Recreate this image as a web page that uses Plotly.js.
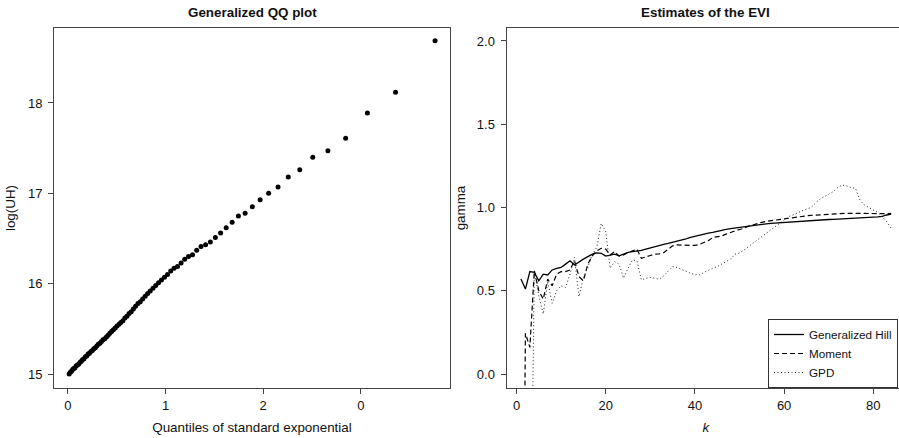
<!DOCTYPE html>
<html>
<head>
<meta charset="utf-8">
<script src="https://cdn.plot.ly/plotly-3.0.1.min.js"></script>
<style>
html,body{margin:0;padding:0;overflow:hidden;background:#fff;}
#chart{width:919px;height:438px;}
</style>
</head>
<body>
<div id="chart"></div>
<script>
// ---------- Left panel: generalized QQ plot ----------
var qqQuantiles = [3.761,3.356,3.068,2.845,2.663,2.508,2.375,2.257,2.152,2.056,
  1.969,1.889,1.815,1.746,1.682,1.621,1.564,1.510,1.459,1.410,
  1.363,1.319,1.276,1.235,1.196,1.159,1.122,1.087,1.053,1.020,
  0.989,0.958,0.928,0.899,0.871,0.843,0.817,0.791,0.765,0.741,
  0.717,0.693,0.670,0.648,0.626,0.604,0.583,0.563,0.542,0.523,
  0.503,0.484,0.465,0.447,0.429,0.411,0.394,0.377,0.360,0.343,
  0.327,0.311,0.295,0.280,0.265,0.250,0.235,0.220,0.206,0.192,
  0.178,0.164,0.150,0.137,0.124,0.111,0.098,0.085,0.072,0.060,
  0.048,0.036,0.024,0.012];
var qqLogUH = [18.69,18.12,17.89,17.61,17.47,17.40,17.26,17.18,17.07,17.00,
  16.93,16.85,16.78,16.75,16.68,16.62,16.56,16.51,16.46,16.43,
  16.41,16.37,16.32,16.30,16.27,16.23,16.19,16.17,16.14,16.10,
  16.07,16.04,16.01,15.98,15.95,15.92,15.89,15.86,15.83,15.80,
  15.78,15.75,15.72,15.69,15.67,15.64,15.62,15.59,15.57,15.55,
  15.53,15.51,15.49,15.47,15.45,15.43,15.41,15.39,15.38,15.36,
  15.34,15.33,15.31,15.29,15.28,15.26,15.25,15.23,15.22,15.20,
  15.19,15.17,15.16,15.14,15.13,15.11,15.10,15.09,15.07,15.06,
  15.05,15.03,15.02,15.00];
var qqXTickVals = [0,1,2,3];
var qqXTickText = ["0","1","2","0"];
var qqYTickVals = [15,16,17,18];

// ---------- Right panel: estimates of the EVI ----------
var kValues = [1,2,3,4,5,6,7,8,9,10,11,12,13,14,15,16,17,18,19,20,
  21,22,23,24,25,26,27,28,29,30,31,32,33,34,35,36,37,38,39,40,
  41,42,43,44,45,46,47,48,49,50,51,52,53,54,55,56,57,58,59,60,
  61,62,63,64,65,66,67,68,69,70,71,72,73,74,75,76,77,78,79,80,
  81,82,83,84];
var genHill = [0.57,0.51,0.615,0.61,0.56,0.60,0.595,0.625,0.635,0.64,
  0.66,0.68,0.655,0.675,0.69,0.705,0.72,0.728,0.725,0.708,
  0.715,0.72,0.71,0.722,0.73,0.735,0.738,0.742,0.75,0.758,
  0.765,0.772,0.778,0.784,0.79,0.797,0.805,0.812,0.82,0.827,
  0.833,0.84,0.846,0.85,0.857,0.865,0.869,0.873,0.877,0.882,
  0.886,0.889,0.893,0.896,0.899,0.902,0.905,0.907,0.91,0.912,
  0.914,0.916,0.918,0.92,0.921,0.923,0.924,0.925,0.927,0.928,
  0.929,0.93,0.931,0.932,0.934,0.935,0.936,0.938,0.94,0.942,
  0.944,0.947,0.955,0.96];
var moment = [-3.0,0.245,0.16,0.62,0.50,0.45,0.57,0.53,0.60,0.615,
  0.615,0.625,0.68,0.585,0.56,0.66,0.71,0.74,0.755,0.75,
  0.715,0.735,0.708,0.715,0.73,0.74,0.75,0.695,0.705,0.712,
  0.72,0.722,0.729,0.75,0.77,0.776,0.774,0.771,0.772,0.773,
  0.778,0.79,0.80,0.82,0.826,0.829,0.84,0.852,0.86,0.868,
  0.875,0.888,0.897,0.905,0.911,0.917,0.921,0.925,0.929,0.933,
  0.937,0.942,0.945,0.948,0.95,0.953,0.955,0.957,0.959,0.961,
  0.962,0.963,0.964,0.965,0.965,0.966,0.966,0.965,0.964,0.963,
  0.963,0.962,0.963,0.965];
var gpd = [null,null,-1.5,0.62,0.47,0.36,0.555,0.425,0.50,0.53,
  0.52,0.60,0.70,0.465,0.58,0.64,0.72,0.76,0.905,0.855,
  0.635,0.675,0.66,0.575,0.635,0.685,0.68,0.565,0.575,0.58,
  0.575,0.569,0.59,0.615,0.645,0.64,0.628,0.615,0.605,0.597,
  0.595,0.61,0.625,0.635,0.645,0.66,0.675,0.69,0.72,0.727,
  0.745,0.765,0.785,0.805,0.825,0.845,0.862,0.881,0.90,0.92,
  0.945,0.955,0.969,0.98,0.99,1.0,1.025,1.05,1.065,1.08,
  1.095,1.12,1.135,1.13,1.12,1.115,1.045,1.015,1.0,0.985,
  0.97,0.945,0.915,0.875];
var eviXTickVals = [0,20,40,60,80];
var eviYTickVals = [0,0.5,1,1.5,2];

// figure is a little wider than the 899px window; the plot frame runs past the right edge as in the original
var W = 919, H = 438;
function px(x){ return x / W; }
function py(y){ return 1 - y / H; }

var FONT = "Liberation Sans, Arial, Helvetica, sans-serif";
var INK = "#111";
var TICK = 13;
var TITLE = 13.4;

var traces = [
  {type:"scatter", mode:"markers", x:qqQuantiles, y:qqLogUH, xaxis:"x", yaxis:"y",
   marker:{color:"#000", size:5}, showlegend:false, hoverinfo:"x+y"},
  {type:"scatter", mode:"lines", name:"Generalized Hill", x:kValues, y:genHill, xaxis:"x2", yaxis:"y2",
   line:{color:"#000", width:1.3}},
  {type:"scatter", mode:"lines", name:"Moment", x:kValues, y:moment, xaxis:"x2", yaxis:"y2",
   line:{color:"#000", width:1.2, dash:"5px,3px"}},
  {type:"scatter", mode:"lines", name:"GPD", x:kValues, y:gpd, xaxis:"x2", yaxis:"y2",
   connectgaps:false, line:{color:"#222", width:1, dash:"1px,2.5px"}}
];

function axisBase(){
  return {
    showgrid:false, zeroline:false, showline:true, mirror:true,
    linecolor:"#444", linewidth:1, ticks:"outside", ticklen:5, tickwidth:1,
    tickcolor:"#444", tickfont:{family:FONT, size:TICK, color:INK}
  };
}

var xa = axisBase();
Object.assign(xa, {domain:[px(54), px(450)], range:[-0.143, 3.914], tickmode:"array",
  tickvals:qqXTickVals, ticktext:qqXTickText, anchor:"y",
  title:{text:"Quantiles of standard exponential", font:{family:FONT, size:TITLE, color:INK}, standoff:11}});
var ya = axisBase();
Object.assign(ya, {domain:[py(388), py(28)], range:[14.845, 18.83], tickmode:"array",
  tickvals:qqYTickVals, anchor:"x", ticklabelstandoff:3,
  title:{text:"log(UH)", font:{family:FONT, size:TITLE, color:INK}, standoff:9}});
var xa2 = axisBase();
Object.assign(xa2, {domain:[px(506.5), px(905)], range:[-2.24, 87.1], tickmode:"array",
  tickvals:eviXTickVals, anchor:"y2",
  title:{text:"<i>k</i>", font:{family:FONT, size:TITLE, color:INK}, standoff:11}});
var ya2 = axisBase();
Object.assign(ya2, {domain:[py(388), py(28)], range:[-0.084, 2.078], tickmode:"array",
  tickvals:eviYTickVals, tickformat:".1f", anchor:"x2", ticklabelstandoff:3,
  title:{text:"gamma", font:{family:FONT, size:TITLE, color:INK}, standoff:8}});

var layout = {
  width:W, height:H,
  margin:{l:0, r:0, t:0, b:0},
  paper_bgcolor:"#fff", plot_bgcolor:"#fff",
  font:{family:FONT, size:12, color:INK},
  xaxis:xa, yaxis:ya, xaxis2:xa2, yaxis2:ya2,
  showlegend:true,
  legend:{x:px(898), xanchor:"right", y:py(388), yanchor:"bottom",
    bgcolor:"#fff", bordercolor:"#333", borderwidth:1,
    font:{family:FONT, size:11.7, color:INK}, tracegroupgap:0, itemwidth:30},
  annotations:[
    {text:"<b>Generalized QQ plot</b>", xref:"paper", yref:"paper", x:px(252), y:py(12),
     xanchor:"center", yanchor:"middle", showarrow:false, font:{family:FONT, size:TITLE, color:INK}},
    {text:"<b>Estimates of the EVI</b>", xref:"paper", yref:"paper", x:px(705), y:py(12),
     xanchor:"center", yanchor:"middle", showarrow:false, font:{family:FONT, size:TITLE, color:INK}}
  ]
};

Plotly.newPlot("chart", traces, layout, {displayModeBar:false, staticPlot:true});
</script>
</body>
</html>
